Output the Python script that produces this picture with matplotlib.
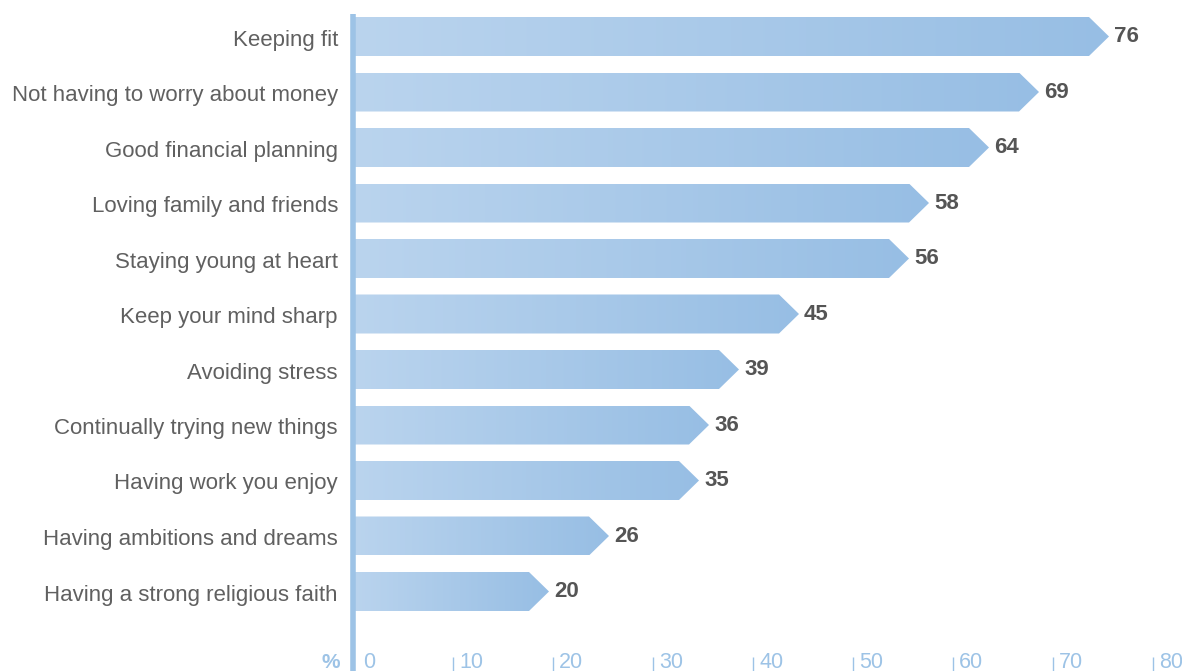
import numpy as np
import matplotlib
matplotlib.use("Agg")
import matplotlib.pyplot as plt
from matplotlib.patches import Polygon
from matplotlib.colors import LinearSegmentedColormap

categories = [
    "Keeping fit",
    "Not having to worry about money",
    "Good financial planning",
    "Loving family and friends",
    "Staying young at heart",
    "Keep your mind sharp",
    "Avoiding stress",
    "Continually trying new things",
    "Having work you enjoy",
    "Having ambitions and dreams",
    "Having a strong religious faith",
]
values = [76, 69, 64, 58, 56, 45, 39, 36, 35, 26, 20]
xticks = [0, 10, 20, 30, 40, 50, 60, 70, 80]

W, H, DPI = 1182, 671, 100
X0, XS = 353, 10.0        # pixel of x=0, pixels per unit
Y0, YS = 36.5, 55.5       # pixel of first row centre, pixels per row

def row(py):
    return (py - Y0) / YS

px = 1 / YS               # one pixel in row units
blue = "#9dc3e6"
grey = "#555555"
font = "Liberation Sans"
grad = LinearSegmentedColormap.from_list("bar", ["#bad4ee", "#97bee4"])

fig = plt.figure(figsize=(W / DPI, H / DPI), dpi=DPI)
ax = fig.add_axes([0, 0, 1, 1])
ax.set_xlim(-X0 / XS, (W - X0) / XS)
ax.set_ylim(row(H), row(0))
ax.axis("off")

bar_h = 39 / YS
tip = 2.0
g = np.linspace(0, 1, 256).reshape(1, -1)
for i, (cat, v) in enumerate(zip(categories, values)):
    top, bot = i - bar_h / 2, i + bar_h / 2
    end = v - 0.4
    poly = Polygon([(0, top), (end - tip, top), (end, i), (end - tip, bot), (0, bot)],
                   closed=True, facecolor="none", edgecolor="none")
    ax.add_patch(poly)
    im = ax.imshow(g, cmap=grad, extent=[0, end, bot, top], aspect="auto",
                   interpolation="bilinear", zorder=1)
    im.set_clip_path(poly)
    ax.text(end + 0.5, i + 5.5 * px, str(v), ha="left", va="baseline",
            fontsize=16, fontweight="bold", color=grey, family=font)
    ax.text(-1.5, i + 9 * px, cat, ha="right", va="baseline", fontsize=16,
            color="#606060", family=font)

# vertical axis line
ax.vlines(0, row(14), row(H), colors=blue, linewidth=4.0, zorder=3)

# bottom scale
ty = row(668)
for t in xticks:
    if t > 0:
        ax.vlines(t, row(657), row(H), colors=blue, linewidth=1.0)
        ax.text(t + 0.6, ty, str(t), ha="left", va="baseline", fontsize=15.5,
                color=blue, family=font)
    else:
        ax.text(1.0, ty, "0", ha="left", va="baseline", fontsize=15.5,
                color=blue, family=font)
ax.text(-1.3, ty, "%", ha="right", va="baseline", fontsize=15,
        fontweight="bold", color=blue, family=font)

fig.savefig("out.png", dpi=DPI)
